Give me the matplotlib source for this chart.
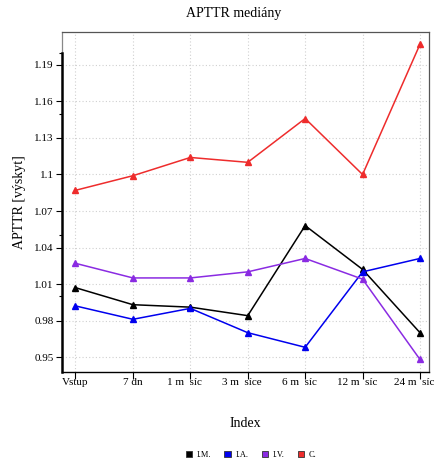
import matplotlib
matplotlib.use("Agg")
import matplotlib.pyplot as plt
from matplotlib.patches import Patch
import matplotlib.transforms as mtransforms

plt.rcParams['font.family'] = ['Liberation Serif', 'DejaVu Serif']

categories = ["Vstup", "7 dn", "1 m  síc", "3 m  síce", "6 m  síc", "12 m  síc", "24 m  síc"]
series_names = ["I.M.", "I.A.", "I.V.", "C."]
im_vals = [1.007, 0.993, 0.991, 0.984, 1.058, 1.022, 0.970]
ia_vals = [0.992, 0.981, 0.990, 0.970, 0.958, 1.020, 1.031]
iv_vals = [1.027, 1.015, 1.015, 1.020, 1.031, 1.014, 0.948]
c_vals = [1.087, 1.099, 1.114, 1.110, 1.146, 1.100, 1.207]
y_major = [0.95, 0.98, 1.01, 1.04, 1.07, 1.10, 1.13, 1.16, 1.19]
y_major_labels = ["0.95", "0.98", "1.01", "1.04", "1.07", "1.1", "1.13", "1.16", "1.19"]
y_minor = [0.95, 1.00, 1.05, 1.10, 1.15, 1.20]

colors = ["#000000", "#0000ee", "#8a2be2", "#ee2c2c"]

fig = plt.figure(figsize=(4.34, 4.66), dpi=100)
ax = fig.add_axes([62/434, 1-372/466, (429-62)/434, (372-32)/466])

x = list(range(1, len(categories)+1))
for vals, col, name in zip([im_vals, ia_vals, iv_vals, c_vals], colors, series_names):
    ax.plot(x, vals, color=col, lw=1.1, marker="^", ms=4.5, label=name, zorder=3)

ax.set_xlim(0.765, 7.157)
ax.set_ylim(0.9377, 1.2171)

ax.set_yticks(y_major)
ax.set_yticklabels(y_major_labels, fontsize=8)
ax.set_yticks(y_minor, minor=True)
ax.tick_params(axis='y', which='major', length=4, width=0.8, direction='out', pad=2)
ax.tick_params(axis='y', which='minor', length=2.5, width=0.8, direction='out')
ax.tick_params(axis='x', which='major', length=5, width=0.8, direction='out', pad=-1)
ax.set_xticks(x)
ax.set_xticklabels(categories, fontsize=8)

shift = mtransforms.ScaledTranslation(-5.5/100, 0, fig.dpi_scale_trans)
for lab in ax.get_xticklabels()[2:]:
    lab.set_transform(lab.get_transform() + shift)

ax.grid(True, which='major', color='#d0d0d0', linestyle=(0, (1, 2)), lw=0.8, zorder=0)

for s in ['top', 'right']:
    ax.spines[s].set_color('#555555')
    ax.spines[s].set_linewidth(0.9)
ax.spines['bottom'].set_color('black')
ax.spines['bottom'].set_linewidth(1.0)
ax.spines['left'].set_color('black')
ax.spines['left'].set_linewidth(1.8)
ax.spines['left'].set_bounds(0.9377, 1.20)
trans = mtransforms.blended_transform_factory(ax.transAxes, ax.transData)
ax.plot([0, 0], [1.20, 1.2171], transform=trans, color='#888888', lw=0.9, clip_on=False)

ax.set_ylabel("APTTR [výskyt]", fontsize=10, labelpad=6)
ax.set_xlabel("Index", fontsize=10, labelpad=22)
fig.text(234/434, 1-14/466, "APTTR mediány", ha='center', va='center', fontsize=10)

handles = [Patch(facecolor=c, edgecolor='#333333', lw=0.6) for c in colors]
fig.legend(handles, series_names, loc='center', bbox_to_anchor=(251/434, 1-455/466),
           ncol=4, frameon=False, fontsize=6, handlelength=0.8, handleheight=0.8,
           handletextpad=0.5, columnspacing=1.6)

fig.savefig("out.png", dpi=100)
